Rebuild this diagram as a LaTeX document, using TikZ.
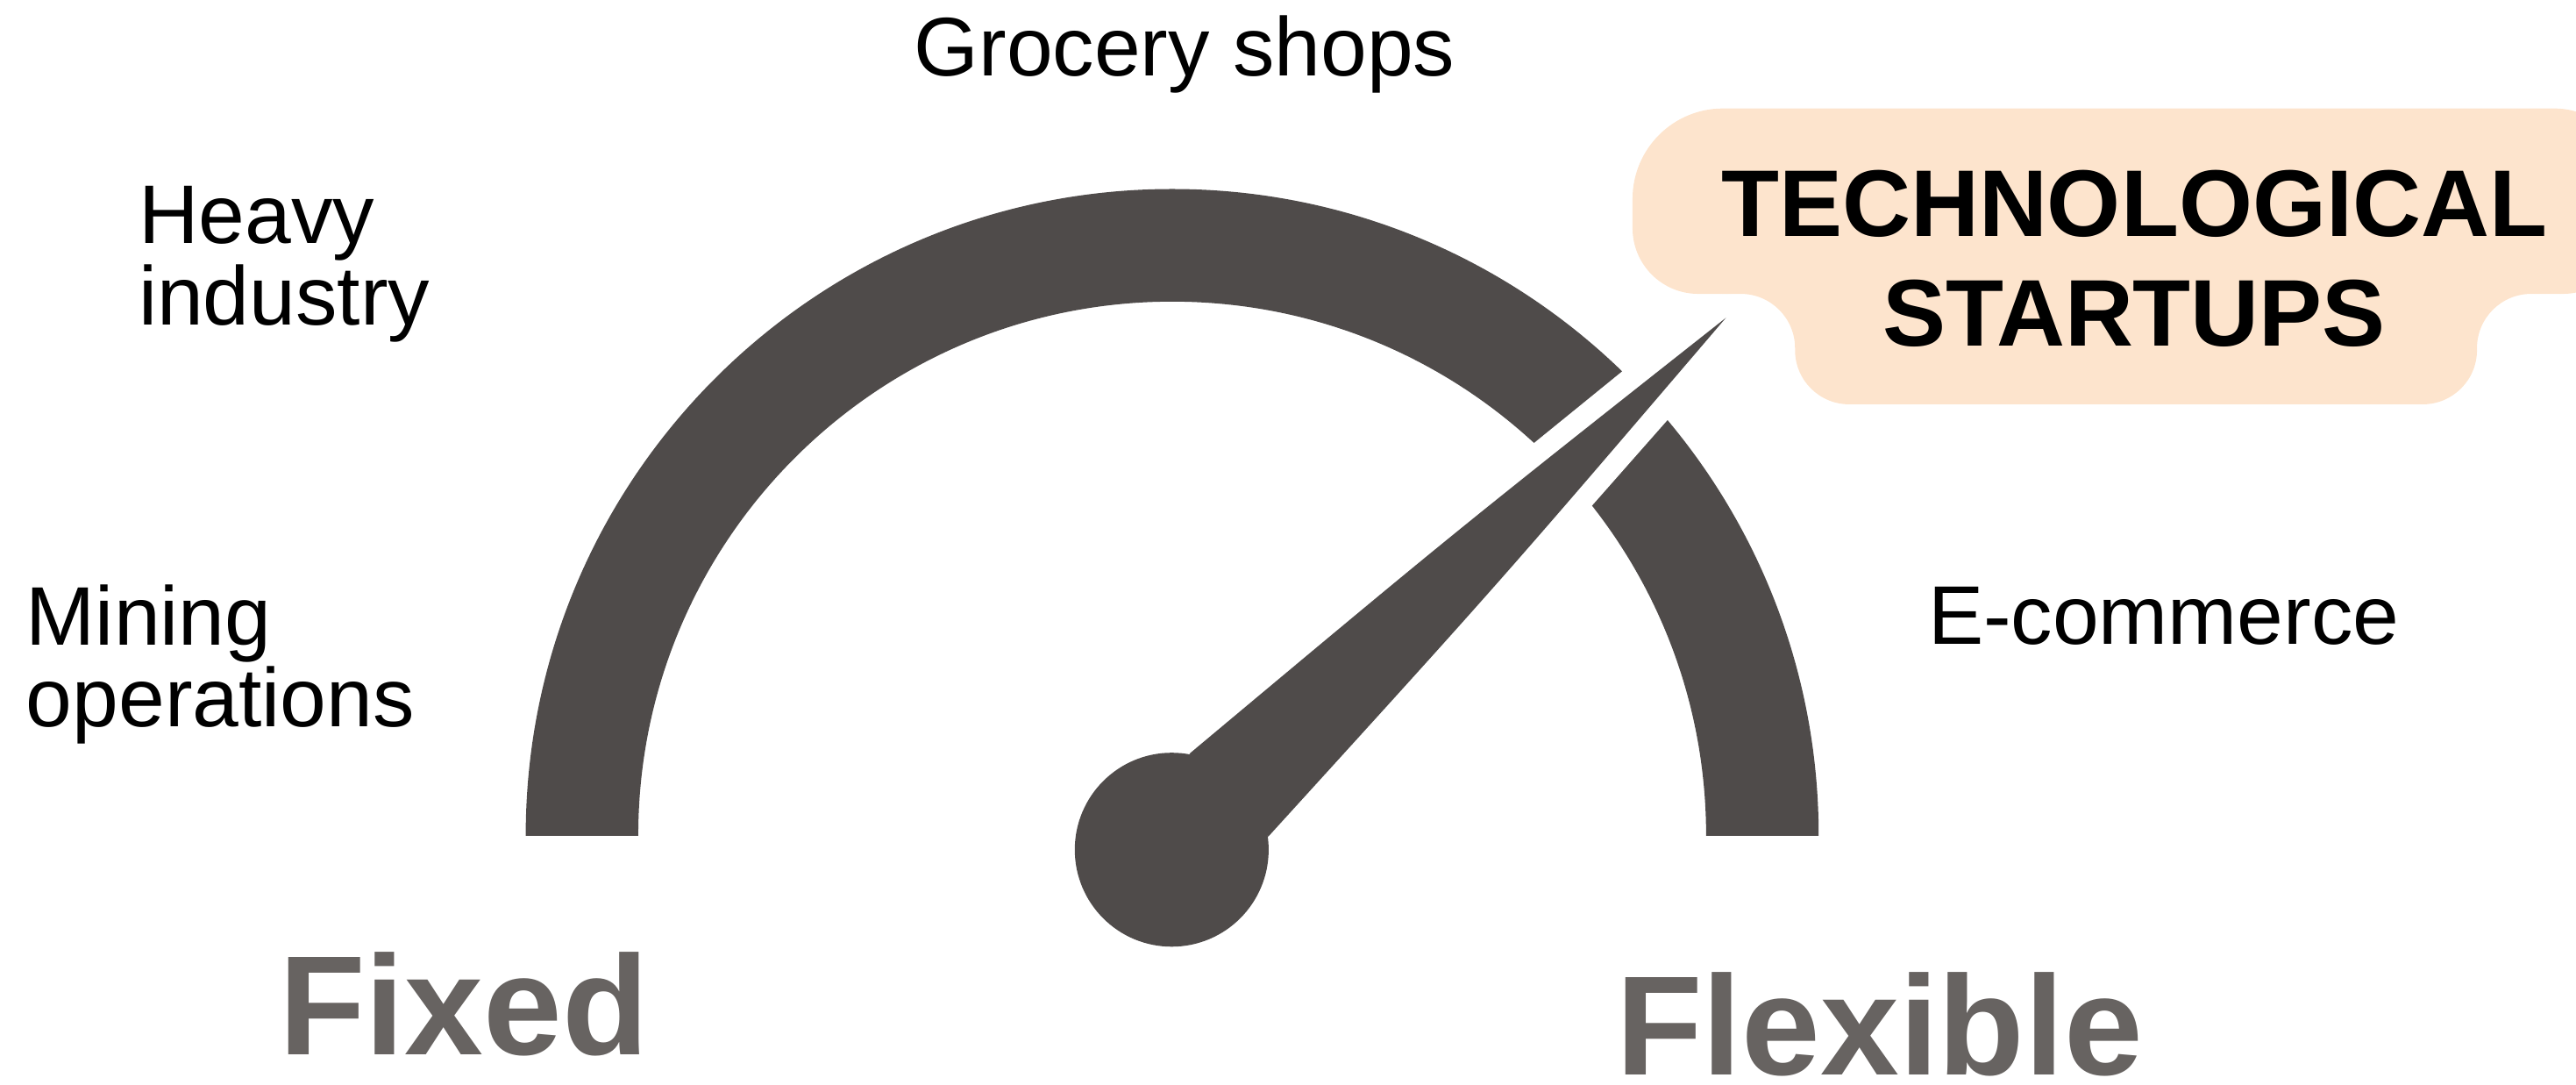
\documentclass[tikz,border=0pt]{standalone}
\usepackage{fontspec}
\setmainfont{Liberation Sans}
\usepackage{tikz}
\usetikzlibrary{calc}
\definecolor{GaugeDark}{HTML}{4F4B4A}
\definecolor{LblGray}{HTML}{676361}
\definecolor{TagPeach}{HTML}{FDE4CD}
\tikzset{
  lbl/.style={font=\fontsize{14.4}{14.1}\selectfont,inner sep=0pt,align=left},
  endlbl/.style={font=\bfseries\fontsize{24.5}{28}\selectfont,text=LblGray,inner sep=0pt},
  tag/.style={font=\bfseries\fontsize{16.4}{19.1}\selectfont,align=center,inner sep=0pt},
  gap/.style={draw=white,line width=2.9mm,line join=round},
}

\begin{document}
\begin{tikzpicture}
    \useasboundingbox (0,0) rectangle (15.68,6.60);
    \clip (0,0) rectangle (15.68,6.60);
    %% Dial
    \fill[GaugeDark] (3.2,1.515) arc[start angle=180,end angle=0,radius=3.935]
      -- (10.385,1.515) arc[start angle=0,end angle=180,radius=3.25] -- cycle;
    %% Needle
    \coordinate (hub)  at (7.132,1.43);
    \coordinate (tip)  at (10.505,4.666);
    \coordinate (nbA)  at (7.24,2.014);
    \coordinate (nbB)  at (7.72,1.51);
    \draw[gap] (nbA) -- (tip) -- (nbB) -- cycle;
    \fill[GaugeDark] (nbA) .. controls (8.85,3.36) .. (tip) .. controls (9.14,3.07) .. (nbB) -- cycle;
    \fill[GaugeDark] (hub) circle (0.59);
    %% Tag
    \fill[TagPeach] (10.49,5.94) -- (15.55,5.94) arc[start angle=90,end angle=0,radius=0.45]
      -- (16.0,5.212) arc[start angle=0,end angle=-90,radius=0.4]
      -- (15.407,4.812) arc[start angle=90,end angle=180,radius=0.33]
      -- (15.077,4.47) arc[start angle=0,end angle=-90,radius=0.33]
      -- (11.256,4.14) arc[start angle=270,end angle=180,radius=0.33]
      -- (10.926,4.482) arc[start angle=0,end angle=90,radius=0.33]
      -- (10.337,4.812) arc[start angle=270,end angle=180,radius=0.4]
      -- (9.937,5.39) arc[start angle=180,end angle=90,radius=0.55] -- cycle;
    \node[tag,anchor=base] (startups) at (12.99,4.492) {TECHNOLOGICAL\\STARTUPS};
    %% Sectors
    \node[lbl,anchor=base] (grocery) at (7.21,6.141) {Grocery shops};
    \node[lbl,anchor=base west] (heavy) at (0.837,4.621) {Heavy\\industry};
    \node[lbl,anchor=base west] (mining) at (0.153,2.18) {Mining\\operations};
    \node[lbl,anchor=base] (ecom) at (13.17,2.681) {E-commerce};
    %% Ends
    \node[endlbl,anchor=base] (fixed) at (2.823,0.182) {Fixed};
    \node[endlbl,anchor=base] (flexible) at (11.44,0.06) {Flexible};
  \end{tikzpicture}
\end{document}
